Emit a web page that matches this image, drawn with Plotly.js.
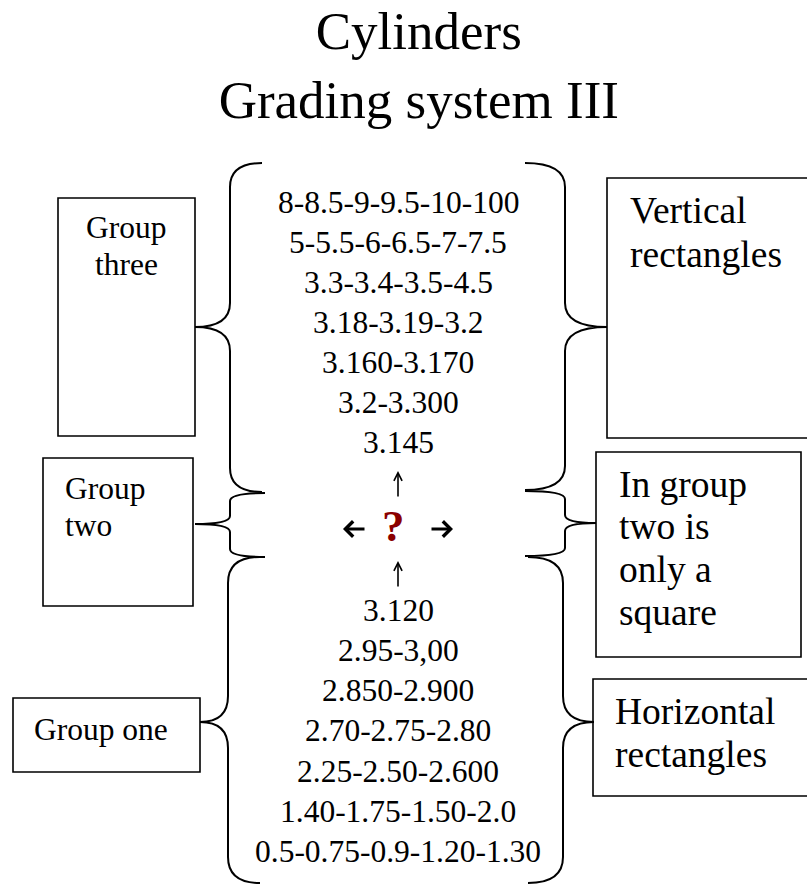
<!DOCTYPE html>
<html>
<head>
<meta charset="utf-8">
<script src="https://cdn.plot.ly/plotly-3.0.1.min.js"></script>
<style>html,body{margin:0;padding:0;background:#fff;}#chart{width:807px;height:886px;}</style>
</head>
<body>
<div id="chart"></div>
<script>
// ---- content ----
const titleText = "Cylinders<br>Grading system III";
const upperRanges = ["8-8.5-9-9.5-10-100", "5-5.5-6-6.5-7-7.5", "3.3-3.4-3.5-4.5", "3.18-3.19-3.2", "3.160-3.170", "3.2-3.300", "3.145"];
const lowerRanges = ["3.120", "2.95-3,00", "2.850-2.900", "2.70-2.75-2.80", "2.25-2.50-2.600", "1.40-1.75-1.50-2.0", "0.5-0.75-0.9-1.20-1.30"];
const groupThree = ["Group", "three"];
const groupTwo = ["Group", "two"];
const groupOne = ["Group one"];
const verticalNote = ["Vertical", "rectangles"];
const squareNote = ["In group", "two is", "only a", "square"];
const horizontalNote = ["Horizontal", "rectangles"];
const centerMark = "?";

// ---- layout helpers ----
const FONT = "Liberation Serif";
const ann = [];
function addLines(lines, x, y0, step, size, xanchor, color, bold) {
  lines.forEach((t, i) => {
    ann.push({
      x: x, y: y0 + i * step, xref: "x", yref: "y",
      text: bold ? "<b>" + t + "</b>" : t, showarrow: false,
      xanchor: xanchor, yanchor: "middle",
      font: {family: FONT, size: size, color: color || "#000"}
    });
  });
}
function addArrow(xTail, yTail, xHead, yHead, w, head) {
  ann.push({
    x: xHead, y: yHead, ax: xTail, ay: yTail, xref: "x", yref: "y", axref: "x", ayref: "y",
    text: "", showarrow: true, arrowhead: head, arrowsize: 1, arrowwidth: w,
    arrowcolor: "#000", standoff: 0, startstandoff: 0
  });
}
function brace(xEnd, xMid, xTip, yTop, yTip, yBot, r) {
  return "M" + xEnd + "," + yTop +
    " Q" + xMid + "," + yTop + " " + xMid + "," + (yTop + r) +
    " L" + xMid + "," + (yTip - r) +
    " Q" + xMid + "," + yTip + " " + xTip + "," + yTip +
    " Q" + xMid + "," + yTip + " " + xMid + "," + (yTip + r) +
    " L" + xMid + "," + (yBot - r) +
    " Q" + xMid + "," + yBot + " " + xEnd + "," + yBot;
}
const line = {color: "#000", width: 2};
const boxLine = {color: "#000", width: 1.6};
const shapes = [
  {type: "path", xref: "x", yref: "y", path: brace(262, 230, 195, 163, 327, 492, 24), line: line},
  {type: "path", xref: "x", yref: "y", path: brace(265, 230, 195, 493, 524, 557, 8), line: line},
  {type: "path", xref: "x", yref: "y", path: brace(260, 228, 200, 557, 722, 883, 26), line: line},
  {type: "path", xref: "x", yref: "y", path: brace(525, 565, 607, 163, 327, 490, 24), line: line},
  {type: "path", xref: "x", yref: "y", path: brace(525, 565, 596, 491, 523, 556, 8), line: line},
  {type: "path", xref: "x", yref: "y", path: brace(528, 563, 594, 557, 722, 883, 26), line: line},
  {type: "rect", xref: "x", yref: "y", x0: 58, x1: 195, y0: 198, y1: 436, line: boxLine},
  {type: "rect", xref: "x", yref: "y", x0: 43, x1: 193, y0: 458, y1: 606, line: boxLine},
  {type: "rect", xref: "x", yref: "y", x0: 13, x1: 200, y0: 698, y1: 772, line: boxLine},
  {type: "rect", xref: "x", yref: "y", x0: 607, x1: 830, y0: 178, y1: 438, line: boxLine},
  {type: "rect", xref: "x", yref: "y", x0: 596, x1: 801, y0: 452, y1: 657, line: boxLine},
  {type: "rect", xref: "x", yref: "y", x0: 593, x1: 830, y0: 679, y1: 796, line: boxLine}
];

addLines(upperRanges, 398, 202, 40, 31.5, "center");
addLines(lowerRanges, 398, 610, 40.3, 31.5, "center");
addLines(groupThree, 126, 227, 37.5, 31.5, "center");
addLines(groupTwo, 63, 488, 37.5, 31.5, "left");
addLines(groupOne, 101, 729, 38, 31.5, "center");
addLines(verticalNote, 628, 210, 44, 37.5, "left");
addLines(squareNote, 617, 484, 42.7, 37.5, "left");
addLines(horizontalNote, 613, 711, 43, 37.5, "left");
addLines([centerMark], 393, 526, 0, 45, "center", "#8B0000", true);
addArrow(398, 498, 398, 471, 1.6, 5);
addArrow(398, 588, 398, 561, 1.6, 5);
addArrow(366, 529, 343, 529, 3, 4);
addArrow(430, 529, 453, 529, 3, 4);

const layout = {
  width: 807, height: 886,
  margin: {l: 0, r: 0, t: 0, b: 0, pad: 0},
  paper_bgcolor: "#fff", plot_bgcolor: "#fff",
  showlegend: false,
  title: {
    text: titleText, x: 0.519, xref: "paper", xanchor: "center",
    y: 1 - 49 / 886, yref: "container", yanchor: "middle",
    font: {family: FONT, size: 53, color: "#000"}
  },
  xaxis: {range: [0, 807], visible: false, fixedrange: true},
  yaxis: {range: [886, 0], visible: false, fixedrange: true},
  shapes: shapes,
  annotations: ann
};
const data = [{x: [0], y: [0], type: "scatter", mode: "markers", marker: {opacity: 0}, hoverinfo: "skip"}];
Plotly.newPlot("chart", data, layout, {displayModeBar: false, staticPlot: true});
</script>
</body>
</html>
